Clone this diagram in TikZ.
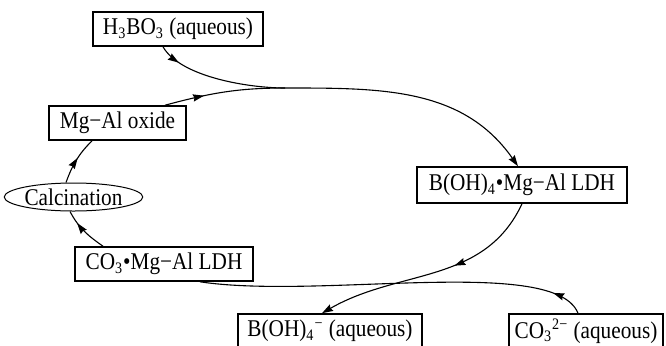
\documentclass[tikz,border=0pt]{standalone}
\usepackage{fontspec}
\setmainfont{Liberation Serif}[FakeStretch=0.885]
\usetikzlibrary{arrows.meta,shapes.geometric,decorations.markings}
\tikzset{
    species/.style = {
        draw,
        line width = 0.8pt,
        minimum height = 17pt,
        inner sep = 0pt,
        font = \fontsize{12}{14}\selectfont,
        },
    process/.style = {
        ellipse,
        draw,
        line width = 0.5pt,
        minimum width = 63.5pt,
        minimum height = 14pt,
        inner sep = 0pt,
        font = \fontsize{12}{14}\selectfont,
        },
    flowline/.style = {
        line width = 0.55pt,
        },
    endtip/.style = {
        -{Stealth[length=5.5pt, width=3.6pt, inset=0.6pt]},
        },
    midtip/.style = {
        postaction = {decorate},
        decoration = {markings, mark = at position #1 with {\arrow{Stealth[length=5.5pt, width=3.6pt, inset=0.6pt]}}},
        },
}

\begin{document}
\begin{tikzpicture}[x=0.5pt, y=0.5pt]
    \useasboundingbox (0,0) rectangle (666,-345);

    \node [species, minimum width=85pt] (h3bo3) at (178,-29) {H\textsubscript{3}BO\textsubscript{3} (aqueous)};
    \node [species, minimum width=68.5pt] (oxide) at (117.5,-123) {Mg−Al oxide};
    \node [process] (calc) at (73.5,-197) {Calcination};
    \node [species, minimum width=89pt] (co3m) at (164,-264) {CO\textsubscript{3}•Mg−Al LDH};
    \node [species, minimum width=105pt, minimum height=18pt] (bmg) at (522,-185) {B(OH)\textsubscript{4}•Mg−Al LDH};
    \node [species, minimum width=92pt] (boh) at (330,-331) {B(OH)\textsubscript{4}\textsuperscript{−} (aqueous)};
    \node [species, minimum width=77pt] (co3aq) at (586,-331) {CO\textsubscript{3}\textsuperscript{2−} (aqueous)};

    \coordinate (merge) at (285,-88);

    % uptake of boric acid
    \draw [flowline, midtip=0.17] ([xshift=-7.5pt]h3bo3.south) to[out=-60, in=180, looseness=0.7] (merge);
    \draw [flowline, midtip=0.33] ([xshift=23.75pt]oxide.north) to[out=15, in=180] (merge);
    \draw [flowline, endtip] (merge) to[out=0, in=125] ([xshift=-2pt]bmg.north);

    % ion exchange
    \draw [flowline, midtip=0.4, endtip] (bmg.south) to[out=-115, in=30] ([xshift=-4pt]boh.north);
    \draw [flowline, midtip=0.085] ([xshift=-4pt]co3aq.north) .. controls +(-23,58) and +(120,-18) .. ([xshift=18pt]co3m.south);

    % calcination
    \draw [flowline, midtip=0.72] ([xshift=-30.5pt]co3m.north) to[out=145, in=-62] ([xshift=-1.75pt]calc.south);
    \draw [flowline, midtip=0.55] ([xshift=-3.75pt]calc.north) to[out=70, in=-135] ([xshift=-12.75pt]oxide.south);
\end{tikzpicture}
\end{document}
